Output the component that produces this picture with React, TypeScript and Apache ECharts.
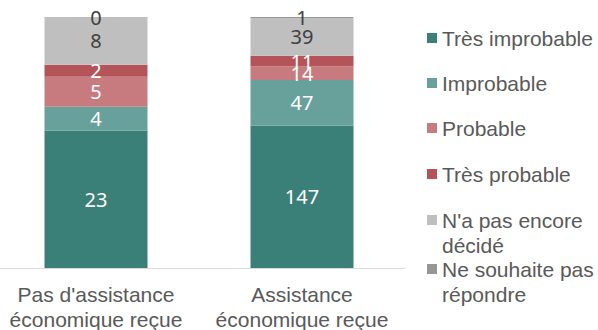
import React, { useEffect, useRef } from "react";
import * as echarts from "echarts";

const categories = ["Pas d'assistance\néconomique reçue", "Assistance\néconomique reçue"];
const seriesNames = [
  "Très improbable",
  "Improbable",
  "Probable",
  "Très probable",
  "N'a pas encore\ndécidé",
  "Ne souhaite pas\nrépondre",
];
const tresImprobable = [23, 147];
const improbable = [4, 47];
const probable = [5, 14];
const tresProbable = [2, 11];
const pasDecide = [8, 39];
const neSouhaitePas = [0, 1];

const colors = ["#3B8078", "#68A19B", "#C77B7E", "#B55458", "#BFBFBF", "#969696"];
const labelColors = ["#FFFFFF", "#FFFFFF", "#FFFFFF", "#FFFFFF", "#404040", "#404040"];
const legendTops = [25.5, 70.5, 115.5, 161.5, 207.5, 256.5];

export default function App() {
  const ref = useRef<HTMLDivElement>(null);
  useEffect(() => {
    if (!ref.current) return;
    const chart = echarts.init(ref.current, null, { renderer: "svg" });
    const values = [tresImprobable, improbable, probable, tresProbable, pasDecide, neSouhaitePas];
    const totals = categories.map((_, i) => values.reduce((s, arr) => s + arr[i], 0));
    const series = values.map((arr, k) => ({
      name: seriesNames[k],
      type: "bar",
      stack: "total",
      barWidth: "50%",
      itemStyle: { color: colors[k] },
      data: arr.map((v, i) => (v / totals[i]) * 100),
      label: {
        show: true,
        position: "inside",
        color: labelColors[k],
        fontFamily: "Noto Sans",
        fontSize: 20,
        formatter: (p: any) => String(arr[p.dataIndex]),
      },
    }));
    const twoLine = (k: number) => k >= 4;
    const legends = seriesNames.map((name, k) => ({
      data: [name],
      orient: "vertical",
      left: 427,
      top: legendTops[k],
      padding: 0,
      itemWidth: 10,
      itemHeight: twoLine(k) ? 35 : 10,
      icon: twoLine(k) ? "path://M0,0h10v10h-10Z M0,35L0.01,35" : "rect",
      itemStyle: { borderWidth: 0 },
      textStyle: {
        color: "#595959",
        fontFamily: "Liberation Sans",
        fontSize: 21,
        lineHeight: 25,
      },
      selectedMode: false,
    }));
    chart.setOption({
      animation: false,
      color: colors,
      grid: { left: -7, right: 193, top: 17, bottom: 62, outerBoundsMode: "none", containLabel: false },
      legend: legends,
      xAxis: {
        type: "category",
        data: categories,
        axisLine: { lineStyle: { color: "#D9D9D9", width: 1 } },
        axisTick: { show: false },
        axisLabel: {
          color: "#595959",
          fontFamily: "Liberation Sans",
          fontSize: 21,
          lineHeight: 25,
          margin: 14,
          interval: 0,
        },
      },
      yAxis: {
        type: "value",
        min: 0,
        max: 100,
        show: false,
        splitLine: { show: false },
      },
      series,
    });
    return () => chart.dispose();
  }, []);
  return (
    <div
      ref={ref}
      style={{ position: "absolute", left: 0, top: 0, width: 598, height: 330 }}
    />
  );
}
